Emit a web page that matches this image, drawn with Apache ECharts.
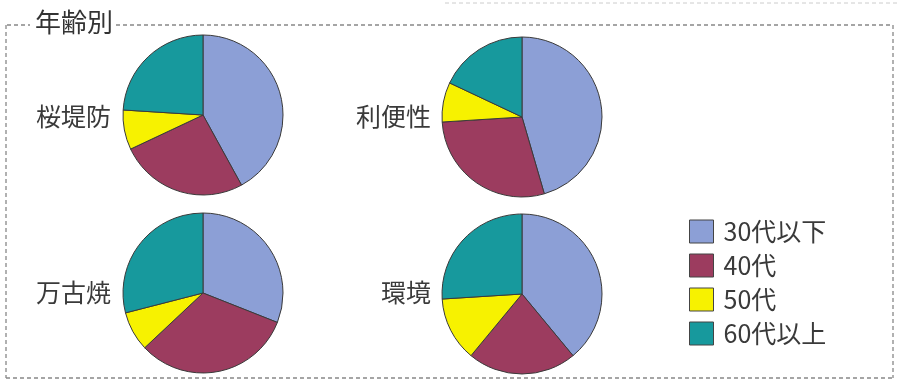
<!DOCTYPE html>
<html>
<head>
<meta charset="utf-8">
<script src="https://cdn.jsdelivr.net/npm/echarts@6/dist/echarts.min.js"></script>
<style>
html,body{margin:0;padding:0;background:#fff;}
#c{width:898px;height:380px;}
</style>
</head>
<body>
<div id="c"></div>
<script>
// Data
var categories = ['30代以下', '40代', '50代', '60代以上'];
var pieNames = ['桜堤防', '利便性', '万古焼', '環境'];
var sakuraValues = [42, 26, 8, 24];
var conveniencesValues = [45.5, 28.5, 8, 18];
var bankoValues = [31, 32, 8, 29];
var environmentValues = [39, 22, 13, 26];
var chartTitle = '年齢別';

var colors = ['#8c9fd6', '#9c3c5f', '#f7f200', '#17999d'];
var seriesValues = [sakuraValues, conveniencesValues, bankoValues, environmentValues];
var centers = [[203, 115], [522, 117], [203, 293], [522, 294]];
var labelPos = [[111, 117], [431, 117], [111, 293], [431, 293]];
var FONT = '"Noto Sans CJK JP", "Noto Sans", sans-serif';

var chart = echarts.init(document.getElementById('c'), null, {renderer: 'canvas'});

var series = seriesValues.map(function (vals, i) {
  return {
    type: 'pie',
    name: pieNames[i],
    center: centers[i],
    radius: 80,
    startAngle: 90,
    clockwise: true,
    silent: true,
    label: {show: false},
    labelLine: {show: false},
    itemStyle: {borderColor: '#3a3a3a', borderWidth: 1},
    emphasis: {disabled: true},
    data: categories.map(function (c, j) {
      return {name: c, value: vals[j], itemStyle: {color: colors[j]}};
    })
  };
});

var titles = [{
  text: chartTitle,
  left: 35, top: 9, padding: 0,
  textStyle: {fontFamily: FONT, fontSize: 26, fontWeight: 'normal', color: '#333'}
}];
pieNames.forEach(function (n, i) {
  titles.push({
    text: n,
    right: 898 - labelPos[i][0],
    top: labelPos[i][1] - 13,
    padding: 0,
    textStyle: {fontFamily: FONT, fontSize: 25, fontWeight: 'normal', color: '#3a3a3a'}
  });
});

var dashStyle = {stroke: '#888', lineWidth: 1.3, lineDash: [4, 3]};

chart.setOption({
  animation: false,
  color: colors,
  title: titles,
  legend: {
    data: categories,
    orient: 'vertical',
    left: 689,
    top: 219,
    padding: 0,
    itemWidth: 24,
    itemHeight: 23,
    itemGap: 9,
    icon: 'rect',
    selectedMode: false,
    itemStyle: {borderColor: '#444', borderWidth: 1},
    textStyle: {fontFamily: FONT, fontSize: 25, color: '#3a3a3a', padding: [0, 0, 0, 5]}
  },
  graphic: [
    {type: 'line', silent: true, shape: {x1: 7, y1: 25, x2: 30, y2: 25}, style: dashStyle},
    {type: 'line', silent: true, shape: {x1: 116, y1: 25, x2: 893, y2: 25}, style: dashStyle},
    {type: 'line', silent: true, shape: {x1: 6, y1: 25, x2: 6, y2: 378}, style: dashStyle},
    {type: 'line', silent: true, shape: {x1: 893, y1: 25, x2: 893, y2: 378}, style: dashStyle},
    {type: 'line', silent: true, shape: {x1: 6, y1: 378, x2: 893, y2: 378}, style: dashStyle},
    {type: 'line', silent: true, shape: {x1: 445, y1: 3, x2: 898, y2: 3}, style: {stroke: '#ccc', lineWidth: 1, lineDash: [4, 3]}}
  ],
  series: series
});
</script>
</body>
</html>
